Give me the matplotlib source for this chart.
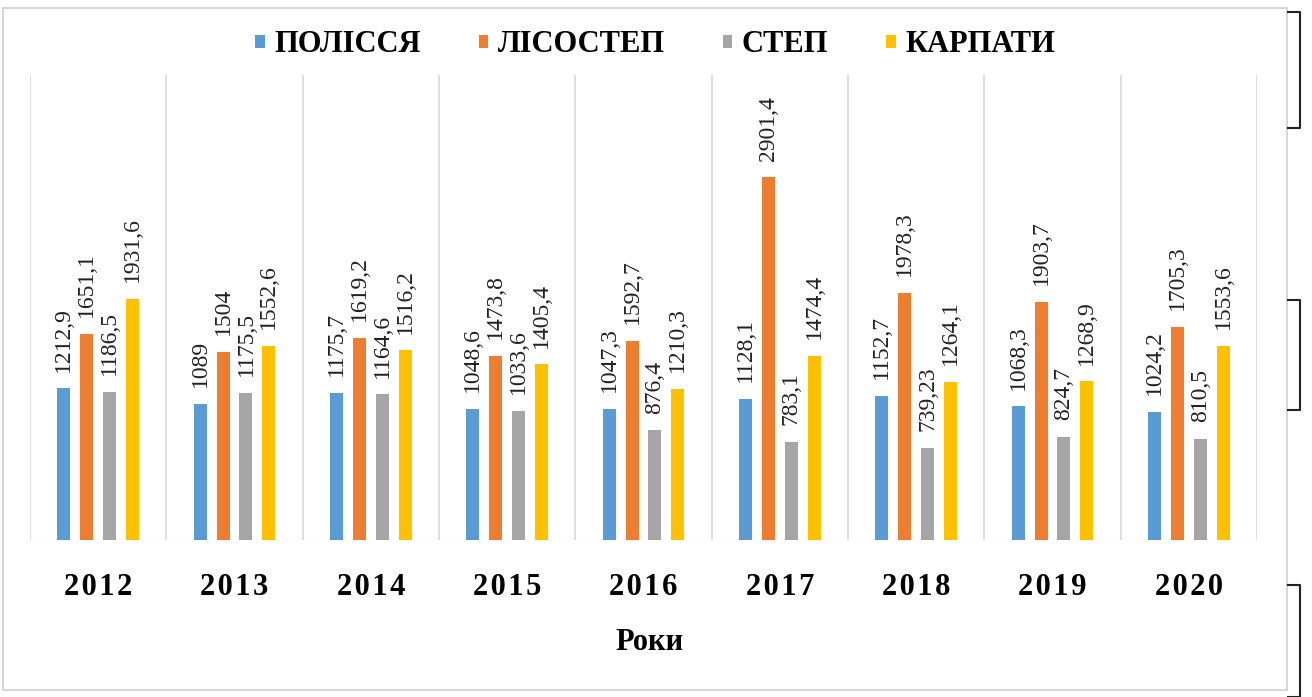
import matplotlib
matplotlib.use("Agg")
import matplotlib.pyplot as plt
from matplotlib.lines import Line2D
from matplotlib.patches import Rectangle
import numpy as np

years = ["2012", "2013", "2014", "2015", "2016", "2017", "2018", "2019", "2020"]
series_names = ["ПОЛІССЯ", "ЛІСОСТЕП", "СТЕП", "КАРПАТИ"]
polissia = [1212.9, 1089, 1175.7, 1048.6, 1047.3, 1128.1, 1152.7, 1068.3, 1024.2]
lisostep = [1651.1, 1504, 1619.2, 1473.8, 1592.7, 2901.4, 1978.3, 1903.7, 1705.3]
step = [1186.5, 1175.5, 1164.6, 1033.6, 876.4, 783.1, 739.23, 824.7, 810.5]
karpaty = [1931.6, 1552.6, 1516.2, 1405.4, 1210.3, 1474.4, 1264.1, 1268.9, 1553.6]
value_labels = [
    ["1212,9", "1089", "1175,7", "1048,6", "1047,3", "1128,1", "1152,7", "1068,3", "1024,2"],
    ["1651,1", "1504", "1619,2", "1473,8", "1592,7", "2901,4", "1978,3", "1903,7", "1705,3"],
    ["1186,5", "1175,5", "1164,6", "1033,6", "876,4", "783,1", "739,23", "824,7", "810,5"],
    ["1931,6", "1552,6", "1516,2", "1405,4", "1210,3", "1474,4", "1264,1", "1268,9", "1553,6"],
]
colors = ["#5B9BD5", "#ED7D31", "#A5A5A5", "#FFC000"]
x_title = "Роки"

plt.rcParams['font.family'] = ['Liberation Serif', 'DejaVu Serif']

W, H = 1312, 697
fig = plt.figure(figsize=(W / 100, H / 100), dpi=100)
ax = fig.add_axes([30 / W, 1 - 540 / H, (1257 - 30) / W, (540 - 75) / H])

series = [polissia, lisostep, step, karpaty]
x = np.arange(len(years))
pitch = 0.168
bw = 0.096
for i, (vals, col, labs, name) in enumerate(zip(series, colors, value_labels, series_names)):
    pos = x + (i - 1.5) * pitch
    bars = ax.bar(pos, vals, width=bw, color=col, label=name, zorder=3)
    for b, lab in zip(bars, labs):
        ax.annotate(lab, (b.get_x() + b.get_width() / 2, b.get_height()),
                    xytext=(0, 12), textcoords="offset points",
                    rotation=90, ha="center", va="bottom", fontsize=17,
                    color="#222222", zorder=4)

ax.set_xlim(-0.5, len(years) - 0.5)
ax.set_ylim(0, 3720)
ax.set_yticks([])
ax.set_xticks(x)
ax.set_xticklabels(["\u200a".join(y) for y in years], fontsize=22, fontweight="bold")
ax.tick_params(axis="x", length=0, pad=24)
ax.set_xticks(np.arange(-0.5, len(years)), minor=True)
ax.tick_params(axis="x", which="minor", length=0)
ax.grid(axis="x", which="minor", color="#D9D9D9", linewidth=1.2, zorder=0)
ax.grid(axis="x", which="major", visible=False)
for s in ax.spines.values():
    s.set_visible(False)
ax.axhline(0, color="#E6E6E6", linewidth=1.0, zorder=2)

fig.text(650 / W, 1 - 643 / H, x_title, ha="center", va="center",
         fontsize=22, fontweight="bold")

leg = fig.legend(loc="center", bbox_to_anchor=(655 / W, 1 - 45 / H), ncol=4,
                 frameon=False, handlelength=0.32, handleheight=0.32,
                 handletextpad=0.3, columnspacing=1.9,
                 prop={"size": 22, "weight": "bold"})

# outer chart border
fig.add_artist(Rectangle((3 / W, 1 - 690 / H), (1287 - 3) / W, (690 - 8) / H,
                         transform=fig.transFigure, fill=False,
                         edgecolor="#D0D0D0", linewidth=1.2))
# scanned brackets on the right edge
for y0, y1 in [(12, 128), (300, 410), (585, 697)]:
    xs = [1288 / W, 1300 / W, 1300 / W, 1288 / W]
    ys = [1 - y0 / H, 1 - y0 / H, 1 - y1 / H, 1 - y1 / H]
    fig.add_artist(Line2D(xs, ys, transform=fig.transFigure, color="#222222", linewidth=1.5))

fig.savefig("out.png", dpi=100)
